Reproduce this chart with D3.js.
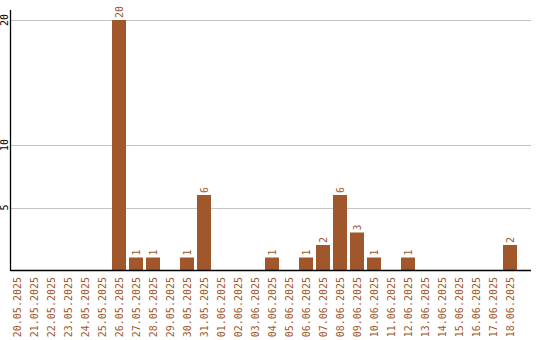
<!DOCTYPE html>
<html><head><meta charset="utf-8">
<script src="https://cdn.jsdelivr.net/npm/d3@7"></script>
<style>body{margin:0;background:#fff}svg{display:block}</style>
</head><body>
<script>
const dates = ["20.05.2025","21.05.2025","22.05.2025","23.05.2025","24.05.2025","25.05.2025","26.05.2025","27.05.2025","28.05.2025","29.05.2025","30.05.2025","31.05.2025","01.06.2025","02.06.2025","03.06.2025","04.06.2025","05.06.2025","06.06.2025","07.06.2025","08.06.2025","09.06.2025","10.06.2025","11.06.2025","12.06.2025","13.06.2025","14.06.2025","15.06.2025","16.06.2025","17.06.2025","18.06.2025"];
const values = [0,0,0,0,0,0,20,1,1,0,1,6,0,0,0,1,0,1,2,6,3,1,0,1,0,0,0,0,0,2];
const yTicks = [5,10,20];

const W=540,H=340;
const color="#a0572b";
const font="'DejaVu Sans Mono', monospace";
const svg=d3.select("body").append("svg").attr("width",W).attr("height",H);

const x=d3.scaleBand().domain(dates).range([10,517]).paddingInner(3/17).paddingOuter(0);
const y=d3.scaleLinear().domain([0,20]).range([270,20]);
const left=10.5,right=531;

// gridlines
svg.append("g").selectAll("line").data(yTicks).join("line")
  .attr("x1",left).attr("x2",right)
  .attr("y1",d=>Math.round(y(d))+0.5).attr("y2",d=>Math.round(y(d))+0.5)
  .attr("stroke","#c4c4c4").attr("stroke-width",1);

// y tick labels
svg.append("g").selectAll("text").data(yTicks).join("text")
  .attr("transform",d=>`translate(8,${y(d)}) rotate(-90)`)
  .attr("text-anchor","middle")
  .attr("font-family",font).attr("font-size",10).attr("fill","#000")
  .text(d=>d);

// bars
svg.append("g").selectAll("rect").data(values.map((v,i)=>({d:dates[i],v}))).join("rect")
  .attr("x",d=>x(d.d)).attr("width",x.bandwidth())
  .attr("y",d=>y(d.v)).attr("height",d=>y(0)-y(d.v))
  .attr("fill",color);

// value labels
svg.append("g").selectAll("text").data(values.map((v,i)=>({d:dates[i],v})).filter(d=>d.v>0)).join("text")
  .attr("transform",d=>`translate(${x(d.d)+x.bandwidth()/2+3.5},${y(d.v)-2}) rotate(-90)`)
  .attr("text-anchor","start")
  .attr("font-family",font).attr("font-size",10).attr("fill",color)
  .text(d=>d.v);

// axes lines
svg.append("line").attr("x1",left).attr("x2",left).attr("y1",10).attr("y2",271).attr("stroke","#000").attr("stroke-width",1.3);
svg.append("line").attr("x1",left).attr("x2",right).attr("y1",270.5).attr("y2",270.5).attr("stroke","#000").attr("stroke-width",1.3);

// x labels
svg.append("g").selectAll("text").data(dates).join("text")
  .attr("transform",d=>`translate(${x(d)+x.bandwidth()/2+3.5},277) rotate(-90)`)
  .attr("text-anchor","end")
  .attr("font-family",font).attr("font-size",10).attr("fill",color)
  .text(d=>d);
</script>
</body></html>
